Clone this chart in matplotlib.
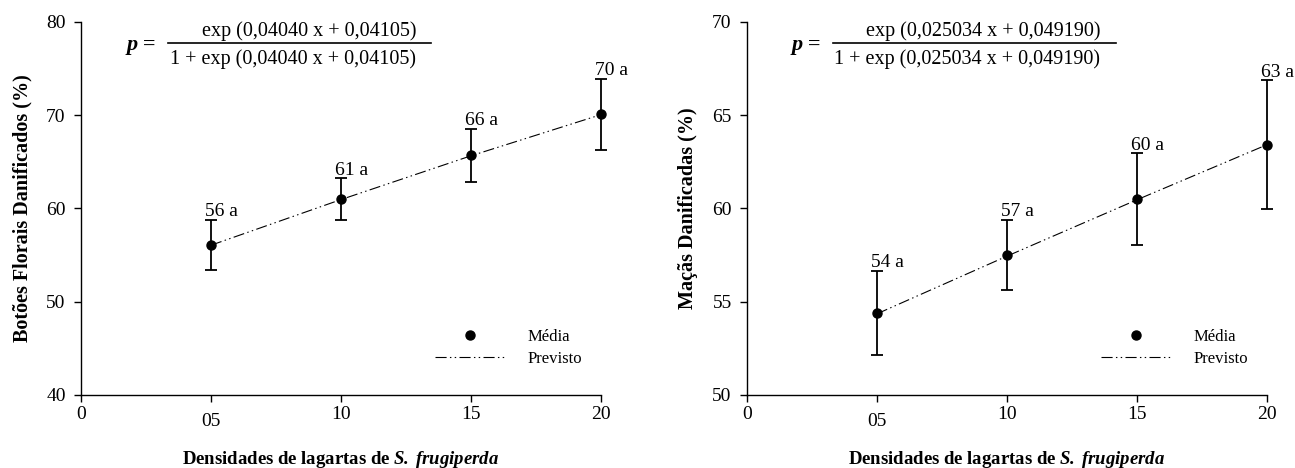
import matplotlib
matplotlib.use("Agg")
import matplotlib.pyplot as plt
from matplotlib.lines import Line2D
from matplotlib.transforms import ScaledTranslation

plt.rcParams['font.family'] = ['Liberation Serif', 'DejaVu Serif']
plt.rcParams['mathtext.fontset'] = 'custom'
plt.rcParams['mathtext.rm'] = 'Liberation Serif'
plt.rcParams['mathtext.bf'] = 'Liberation Serif:bold'
plt.rcParams['mathtext.bfit'] = 'Liberation Serif:italic:bold'

# data
dens = [5, 10, 15, 20]
xtick_pos = [0, 5, 10, 15, 20]
xtick_lab = ["0", "05", "10", "15", "20"]

botoes_mean = [56.1, 61.0, 65.7, 70.1]
botoes_err = [2.67, 2.2, 2.85, 3.8]
botoes_pred = [56.05, 60.94, 65.63, 70.04]
botoes_lab = ["56 a", "61 a", "66 a", "70 a"]

macas_mean = [54.4, 57.5, 60.5, 63.4]
macas_err = [2.25, 1.9, 2.45, 3.45]
macas_pred = [54.35, 57.44, 60.46, 63.41]
macas_lab = ["54 a", "57 a", "60 a", "63 a"]

W, H = 1295, 468
fig = plt.figure(figsize=(W / 100, H / 100), dpi=100)

def fx(px):
    return px / W

def fy(py):
    return 1 - py / H

dash = (0, (10, 3, 1.3, 3, 1.3, 3))


def panel(left_px, mean, err, pred, labs, ylim, yticks, ylabel, p_x, bar):
    ax = fig.add_axes([fx(left_px), fy(395), 520 / W, 373.3 / H])
    eb = ax.errorbar(dens, mean, yerr=err, fmt='none', ecolor='black',
                     elinewidth=1.3, capsize=4, capthick=1.3, zorder=3)
    for art in eb.lines[1] + eb.lines[2]:
        art.set_clip_on(False)
    ax.plot(dens, pred, color='black', lw=0.8, linestyle=dash,
            label='Previsto', zorder=2, clip_on=False)
    ax.plot(dens, mean, 'o', color='black', ms=6.5, label='Média', zorder=4,
            clip_on=False)
    for x, y, e, t in zip(dens, mean, err, labs):
        ax.annotate(t, (x, y + e), xytext=(-4.5, 2.5), textcoords='offset points',
                    ha='left', va='baseline', fontsize=14)
    ax.set_xlim(0, 20)
    ax.set_ylim(*ylim)
    ax.set_xticks(xtick_pos)
    ax.set_xticklabels(xtick_lab)
    ax.set_yticks(yticks)
    ax.spines['top'].set_visible(False)
    ax.spines['right'].set_visible(False)
    for s in ['left', 'bottom']:
        ax.spines[s].set_linewidth(1.0)
    ax.tick_params(axis='both', direction='out', length=5, width=1,
                   labelsize=14, colors='black')
    ax.tick_params(axis='y', pad=6)
    ax.tick_params(axis='x', pad=3)
    # the "05" label sits a bit lower in the original
    lab = ax.get_xticklabels()[1]
    lab.set_transform(lab.get_transform() + ScaledTranslation(0, -5 / 72, fig.dpi_scale_trans))
    ax.set_ylabel(ylabel, fontsize=14.5, fontweight='bold', labelpad=10)
    ax.set_xlabel(r"Densidades de lagartas de $\mathbfit{S.\,frugiperda}$",
                  fontsize=13.5, fontweight='bold', labelpad=14)

    h, l = ax.get_legend_handles_labels()
    ax.legend([h[1], h[0]], [l[1], l[0]], loc='center left',
              bbox_to_anchor=(0.68, 0.127), frameon=False, fontsize=12,
              handlelength=4.3, handletextpad=1.3, labelspacing=0.35,
              borderpad=0, borderaxespad=0)

    # equation: "p =" and fraction bar
    fig.text(fx(p_x), fy(45), "p =", fontsize=16, fontweight='bold',
             fontstyle='italic', ha='left', va='center')
    fig.add_artist(Line2D([fx(bar[0]), fx(bar[1])], [fy(43), fy(43)],
                          color='black', lw=1.2))
    return ax


ax1 = panel(81, botoes_mean, botoes_err, botoes_pred, botoes_lab,
            (40, 80), [40, 50, 60, 70, 80], "Botões Florais Danificados (%)",
            127, (168, 431))
fig.text(fx(416), fy(31), "exp (0,04040 x + 0,04105)", fontsize=14.5,
         ha='right', va='center')
fig.text(fx(416), fy(59), "1 + exp (0,04040 x + 0,04105)", fontsize=14.5,
         ha='right', va='center')

ax2 = panel(747, macas_mean, macas_err, macas_pred, macas_lab,
            (50, 70), [50, 55, 60, 65, 70], "Maçãs Danificadas (%)",
            792, (833, 1116))
fig.text(fx(1100), fy(31), "exp (0,025034 x + 0,049190)", fontsize=14.5,
         ha='right', va='center')
fig.text(fx(1100), fy(59), "1 + exp (0,025034 x + 0,049190)", fontsize=14.5,
         ha='right', va='center')

fig.savefig("out.png", dpi=100)
